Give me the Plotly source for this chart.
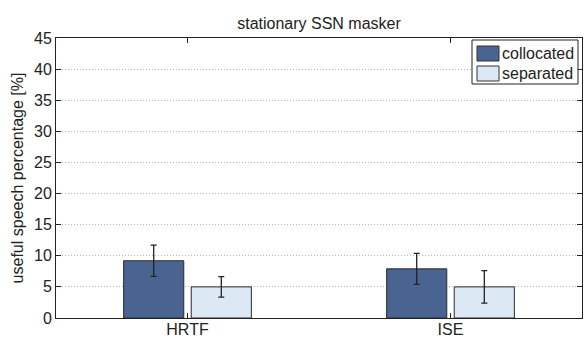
import plotly.graph_objects as go

categories = ["HRTF", "ISE"]
collocated = [9.2, 7.9]
collocated_err = [2.5, 2.5]
separated = [5.0, 5.0]
separated_err = [1.65, 2.6]
y_ticks = [0, 5, 10, 15, 20, 25, 30, 35, 40, 45]
series_names = ["collocated", "separated"]
series_colors = ["#4a6491", "#dde8f5"]

FONT = "Liberation Sans, Arial, sans-serif"
INK = "#222222"

fig = go.Figure()
for name, vals, errs, col in zip(series_names, [collocated, separated],
                                 [collocated_err, separated_err], series_colors):
    fig.add_trace(go.Bar(
        name=name, x=categories, y=vals, showlegend=False,
        marker=dict(color=col, line=dict(color="#2a2a2a", width=1)),
        error_y=dict(type="data", array=errs, color=INK, thickness=1.3, width=3),
    ))

# plot area in pixels: x 56..582, y 38..318
L, R, T, B = 56, 582, 38, 318
def px(x):
    return (x - L) / (R - L)
def py(y):
    return (B - y) / (B - T)

shapes = [dict(type="rect", xref="paper", yref="paper",
               x0=px(472), x1=px(578), y0=py(84), y1=py(40),
               line=dict(color=INK, width=1), fillcolor="white", layer="above")]
annotations = []
for i, (name, col) in enumerate(zip(series_names, series_colors)):
    top = 46 + 20 * i
    shapes.append(dict(type="rect", xref="paper", yref="paper",
                       x0=px(477), x1=px(499), y0=py(top + 15), y1=py(top),
                       line=dict(color="#333333", width=1), fillcolor=col, layer="above"))
    annotations.append(dict(xref="paper", yref="paper", x=px(500), y=py(top + 7.5),
                            text=name, showarrow=False, xanchor="left", yanchor="middle",
                            font=dict(family=FONT, size=16, color=INK)))

fig.update_layout(
    template="none",
    width=584, height=338,
    margin=dict(l=L, r=584 - R, t=T, b=338 - B),
    paper_bgcolor="white", plot_bgcolor="white",
    barmode="group", bargap=0.486, bargroupgap=0.11,
    font=dict(family=FONT, size=16, color=INK),
    title=dict(text="stationary SSN masker", x=319 / 584, xanchor="center",
               y=1 - 23 / 338, yanchor="middle",
               font=dict(family=FONT, size=16, color=INK)),
    showlegend=False,
    shapes=shapes,
    annotations=annotations,
)
fig.update_xaxes(
    range=[-0.5, 1.5], showgrid=False, zeroline=False,
    showline=True, linecolor=INK, linewidth=1, mirror="ticks",
    ticks="inside", ticklen=5, tickcolor=INK, automargin=False,
    tickfont=dict(family=FONT, size=16, color=INK), ticklabelstandoff=-3,
)
fig.update_yaxes(
    range=[0, 45], tickvals=y_ticks, showgrid=True, gridcolor="#b4b4b4", griddash="1px,2px", gridwidth=1,
    zeroline=False, showline=True, linecolor=INK, linewidth=1, mirror="ticks",
    ticks="inside", ticklen=5, tickcolor=INK, automargin=False,
    tickfont=dict(family=FONT, size=16, color=INK),
    title=dict(text="useful speech percentage [%]", standoff=6, font=dict(family=FONT, size=16, color=INK)),
)

fig.write_html("out.html", config={"displayModeBar": False},
               post_script="document.body.style.margin='0px';document.body.style.padding='0px';")
